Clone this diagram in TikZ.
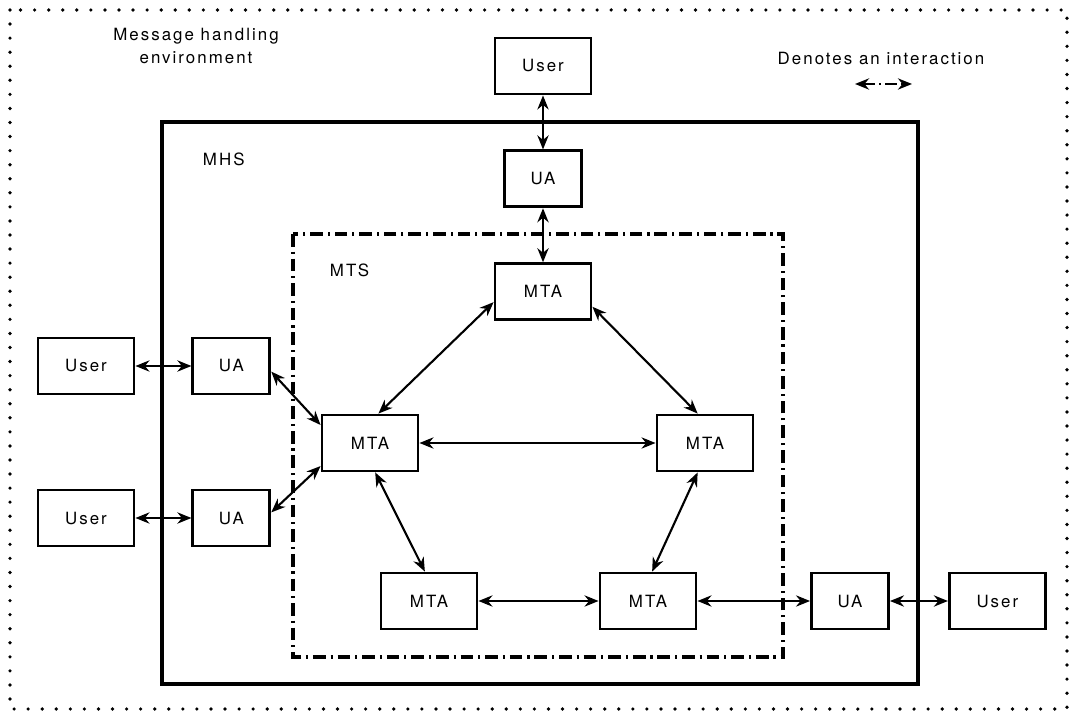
\documentclass[tikz,border=0pt]{standalone}
\usepackage{fontspec}
\setmainfont[LetterSpace=12]{TeX Gyre Heros}
\usepackage{tikz}
\usetikzlibrary{arrows.meta, positioning}
\tikzstyle{agentbox} = [text centered, draw, line width=2pt, minimum height=1.4cm, inner sep=0pt]
\tikzstyle{userbox} = [agentbox, minimum width=2.4cm]
\tikzstyle{uabox} = [agentbox, minimum width=1.925cm]
\tikzstyle{mtabox} = [agentbox, minimum width=2.4cm]
\tikzstyle{interaction} = [<->, line width=1.5pt, >={Stealth[length=10pt,width=8pt]}]
\tikzstyle{envframe} = [line width=2.6pt, line cap=round, dash pattern=on 0pt off 10pt]
\tikzstyle{mhsframe} = [line width=2.4pt]
\tikzstyle{mtsframe} = [line width=2.6pt, dash pattern=on 9pt off 3.5pt on 1.5pt off 3.5pt]

\begin{document}
\begin{tikzpicture}[x=0.025cm, y=-0.025cm, font=\fontsize{12}{16}\selectfont]
		\useasboundingbox (0,0) rectangle (1073,715);
		% environment, MHS and MTS
		\draw [envframe] (10,10) rectangle (1067,709);
		\draw [mhsframe] (162,122) rectangle (918,684);
		\draw [mtsframe] (293,234) rectangle (783,657);
		\node (envlabel) [align=center] at (196,46) {Message handling\\environment};
		\node (mhslabel) [anchor=west] at (198,159) {MHS};
		\node (mtslabel) [anchor=west] at (325,270) {MTS};
		\node (legend) at (881,58) {Denotes an interaction};
		\coordinate (legendl) at (855,84);
		\coordinate (legendr) at (912,84);
		\draw [interaction, dash pattern=on 8pt off 3pt on 1.5pt off 3pt] (legendl) -- (legendr);
		% users and user agents
		\node (usertop) [userbox] at (543,66) {User};
		\node (uatop) [uabox, below=1.35cm of usertop] {UA};
		\node (userleft1) [userbox] at (86,366) {User};
		\node (ualeft1) [uabox, right=1.4cm of userleft1] {UA};
		\node (userleft2) [userbox] at (86,518) {User};
		\node (ualeft2) [uabox, right=1.4cm of userleft2] {UA};
		\node (uaright) [uabox] at (850,601) {UA};
		\node (userright) [userbox, right=1.45cm of uaright] {User};
		% message transfer agents
		\node (mtatop) [mtabox, below=1.35cm of uatop] {MTA};
		\node (mtaleft) [mtabox] at (370,443) {MTA};
		\node (mtaright) [mtabox] at (705,443) {MTA};
		\node (mtabl) [mtabox] at (429,601) {MTA};
		\node (mtabr) [mtabox] at (648,601) {MTA};
		% interactions
		\draw [interaction] (usertop) -- (uatop);
		\draw [interaction] (uatop) -- (mtatop);
		\draw [interaction] (userleft1) -- (ualeft1);
		\draw [interaction] (userleft2) -- (ualeft2);
		\draw [interaction] (ualeft1.-8) -- (mtaleft.160);
		\draw [interaction] (ualeft2.8) -- (mtaleft.205);
		\draw [interaction] (mtatop.192) -- (mtaleft.74);
		\draw [interaction] (mtatop.-17) -- (mtaright.104);
		\draw [interaction] (mtaleft) -- (mtaright);
		\draw [interaction] (mtaleft.-80) -- (mtabl.98);
		\draw [interaction] (mtaright.-104) -- (mtabr.82);
		\draw [interaction] (mtabl) -- (mtabr);
		\draw [interaction] (mtabr) -- (uaright);
		\draw [interaction] (uaright) -- (userright);
	\end{tikzpicture}
\end{document}
